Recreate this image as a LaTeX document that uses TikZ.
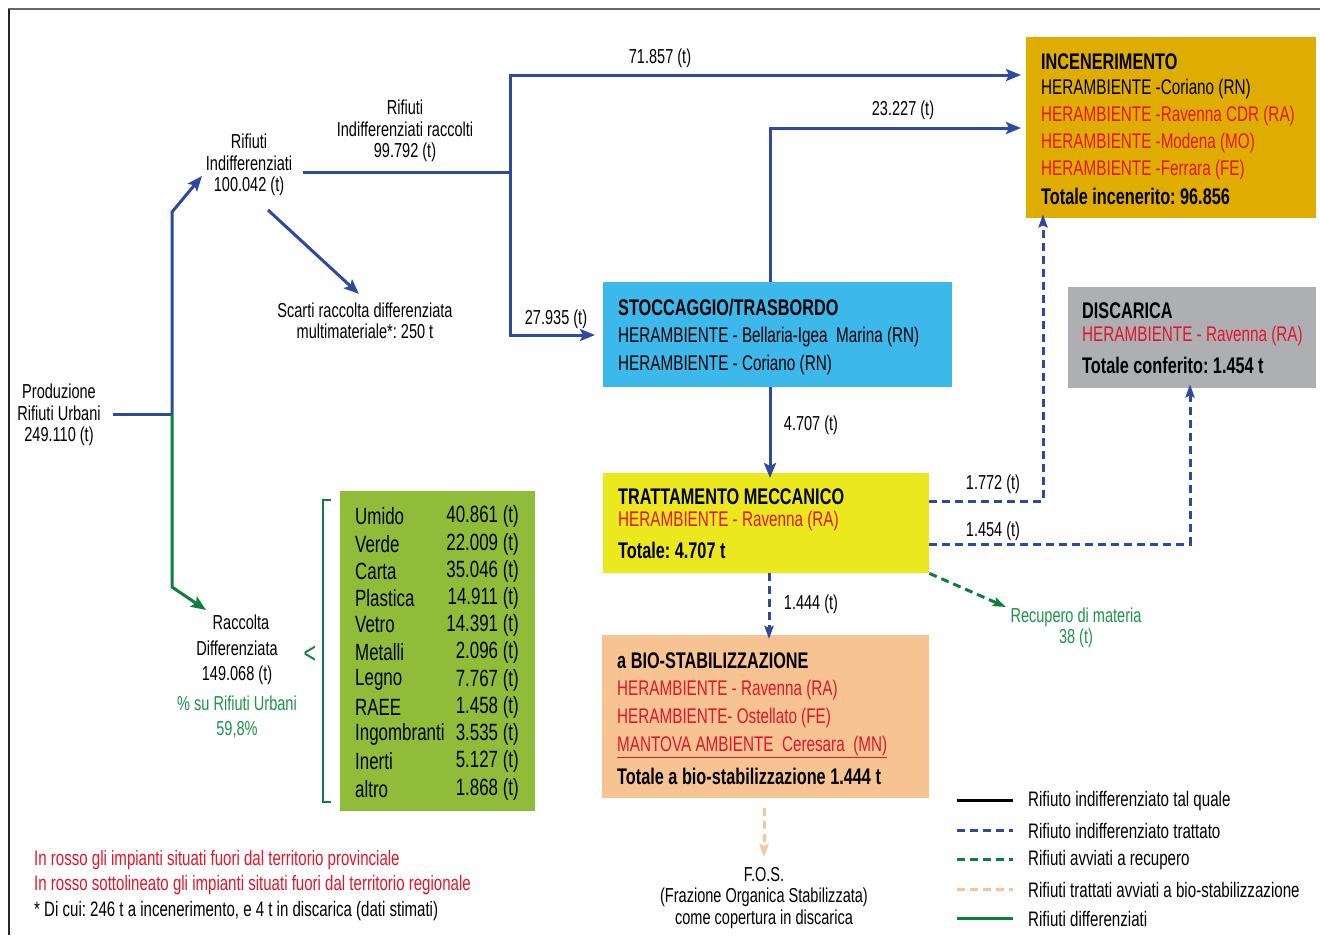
\documentclass[tikz,border=0pt]{standalone}
\usepackage{fontspec}
\setmainfont{Liberation Sans}[FakeStretch=0.72]
\usetikzlibrary{arrows.meta}
\frenchspacing
\definecolor{blueL}{HTML}{2E4A9E}
\definecolor{greenL}{HTML}{0B7F3B}
\definecolor{redT}{HTML}{E3152B}
\definecolor{greenT}{HTML}{1E9448}
\definecolor{incF}{HTML}{DEAD00}
\definecolor{disF}{HTML}{AEAFB2}
\definecolor{stoF}{HTML}{3CB9EA}
\definecolor{traF}{HTML}{ECE81E}
\definecolor{bioF}{HTML}{F7C392}
\definecolor{lstF}{HTML}{8FBD3A}
\definecolor{peachL}{HTML}{F8C593}
\begin{document}
\begin{tikzpicture}[x=1pt,y=-1pt,
  lbl/.style={inner sep=0pt, align=center, font=\fontsize{20.2}{21.5}\selectfont},
  boxn/.style={draw=none, inner sep=0pt, anchor=north west},
  bt/.style={anchor=west, inner sep=0pt, font=\fontsize{21.2}{24}\selectfont},
  bb/.style={anchor=west, inner sep=0pt, font=\bfseries\fontsize{22.6}{24}\selectfont},
  lt/.style={inner sep=0pt, font=\fontsize{23.5}{24}\selectfont},
  flow/.style={draw=blueL, line width=3pt},
  gflow/.style={draw=greenL, line width=3pt},
  dflow/.style={draw=blueL, line width=3pt, dash pattern=on 8pt off 5pt},
  arr/.style={-{Stealth[length=15pt,width=12pt,inset=3pt]}},
  darr/.style={-{Stealth[length=13pt,width=9pt,inset=2pt]}},
  ft/.style={anchor=west, inner sep=0pt, font=\fontsize{20.9}{22}\selectfont},
  lg/.style={anchor=west, inner sep=0pt, font=\fontsize{21}{22}\selectfont}
]
\useasboundingbox (0,0) rectangle (1320,935);
\fill[white] (0,0) rectangle (1320,935);
% frame
\draw[gray!80!black, line width=1.5pt] (8,9) -- (1320,9);
\draw[black!85, line width=1.5pt] (9,9) -- (9,935);

% boxes
\node[boxn, fill=incF, minimum width=290pt, minimum height=181pt] (inc) at (1026,37) {};
\node[boxn, fill=disF, minimum width=248pt, minimum height=101pt] (dis) at (1068,287) {};
\node[boxn, fill=stoF, minimum width=349pt, minimum height=105pt] (sto) at (603,282) {};
\node[boxn, fill=traF, minimum width=326pt, minimum height=100pt] (tra) at (603,473) {};
\node[boxn, fill=bioF, minimum width=327pt, minimum height=163pt] (bio) at (602,635) {};
\node[boxn, fill=lstF, minimum width=195pt, minimum height=320pt] (lst) at (340,491) {};

% box texts
\node[bb] (inc1) at (1041,62) {INCENERIMENTO};
\node[bt] (inc2) at (1041,89) {HERAMBIENTE -Coriano (RN)};
\node[bt, text=redT] (inc3) at (1041,116) {HERAMBIENTE -Ravenna CDR (RA)};
\node[bt, text=redT] (inc4) at (1041,143) {HERAMBIENTE -Modena (MO)};
\node[bt, text=redT] (inc5) at (1041,170) {HERAMBIENTE -Ferrara (FE)};
\node[bb] (inc6) at (1041,196) {Totale incenerito: 96.856};

\node[bb] (dis1) at (1082,311) {DISCARICA};
\node[bt, text=redT] (dis2) at (1082,336) {HERAMBIENTE - Ravenna (RA)};
\node[bb] (dis3) at (1082,365) {Totale conferito: 1.454 t};

\node[bb] (sto1) at (618,308) {STOCCAGGIO/TRASBORDO};
\node[bt] (sto2) at (618,337) {HERAMBIENTE - Bellaria-Igea\ \ Marina (RN)};
\node[bt] (sto3) at (618,365) {HERAMBIENTE - Coriano (RN)};

\node[bb] (tra1) at (618,497) {TRATTAMENTO MECCANICO};
\node[bt, text=redT] (tra2) at (618,521) {HERAMBIENTE - Ravenna (RA)};
\node[bb] (tra3) at (618,550) {Totale: 4.707 t};

\node[bb] (bio1) at (617,661) {a BIO-STABILIZZAZIONE};
\node[bt, text=redT] (bio2) at (617,690) {HERAMBIENTE - Ravenna (RA)};
\node[bt, text=redT] (bio3) at (617,718) {HERAMBIENTE- Ostellato (FE)};
\node[bt, text=redT] (bio4) at (617,747) {\underline{MANTOVA AMBIENTE\ \ Ceresara\ \ (MN)}};
\node[bb] (bio5) at (617,776) {Totale a bio-stabilizzazione 1.444 t};

% list
\foreach \n/\v/\y [count=\i] in {Umido/40.861/516, Verde/22.009/544, Carta/35.046/571, Plastica/14.911/598, Vetro/14.391/625, Metalli/2.096/652, Legno/7.767/680, RAEE/1.458/707, Ingombranti/3.535/734, Inerti/5.127/761, altro/1.868/789}{
  \node[lt, anchor=west] (ln\i) at (355,\y) {\n};
  \node[lt, anchor=east] (lv\i) at (519,\y) {\v\ (t)};
}
% bracket
\draw[greenL, line width=1.2pt] (331,500) -- (323,500) -- (323,802) -- (331,802);
\node[inner sep=0pt, text=greenL, font=\fontsize{30}{30}\selectfont] (lt1) at (310,655) {<};

% labels
\node[lbl] (prod) at (59,415) {Produzione\\Rifiuti Urbani\\249.110 (t)};
\node[lbl] (ri) at (249,165) {Rifiuti\\Indifferenziati\\100.042 (t)};
\node[lbl] (rir) at (405,131) {Rifiuti\\Indifferenziati raccolti\\99.792 (t)};
\node[lbl] (sca) at (365,321) {Scarti raccolta differenziata\\multimateriale*: 250 t};
\node[lbl, font=\fontsize{20.2}{25.5}\selectfont] (rd) at (237,650) {\hspace*{8pt}Raccolta\\Differenziata\\149.068 (t)};
\node[lbl, text=greenT, font=\fontsize{20.2}{25}\selectfont] (perc) at (237,717) {\% su Rifiuti Urbani\\59,8\%};
\node[lbl] (l1) at (660,58) {71.857 (t)};
\node[lbl] (l2) at (903,110) {23.227 (t)};
\node[lbl] (l3) at (556,319) {27.935 (t)};
\node[lbl] (l4) at (811,425) {4.707 (t)};
\node[lbl] (l5) at (993,484) {1.772 (t)};
\node[lbl] (l6) at (993,531) {1.454 (t)};
\node[lbl] (l7) at (811,604) {1.444 (t)};
\node[lbl, text=greenT] (rec) at (1076,628) {Recupero di materia\\38 (t)};
\node[lbl] (fos) at (764,898) {F.O.S.\\(Frazione Organica Stabilizzata)\\come copertura in discarica};

% coordinates
\coordinate (pe) at (113,414);
\coordinate (sp) at (172,414);
\coordinate (up) at (172,212);
\coordinate (upt) at (202,176);
\coordinate (dn) at (172,587);
\coordinate (dnt) at (206,610);
\coordinate (rie) at (303,172);
\coordinate (j) at (510,172);
\coordinate (jt) at (510,75);
\coordinate (jb) at (510,335);
\coordinate (d1) at (268,210);
\coordinate (d2) at (359,294);

% flows
\draw[flow] (pe) -- (sp);
\draw[flow, arr] (sp) -- (up) -- (upt);
\draw[gflow, arr] (sp) -- (dn) -- (dnt);
\draw[flow] (rie) -- (j);
\draw[flow, arr] (j) -- (jt) -- ([xshift=-5pt]inc.west |- jt);
\draw[flow, arr] (j) -- (jb) -- ([xshift=-8pt]sto.west |- jb);
\draw[flow, arr] (d1) -- (d2);
\draw[flow, arr] (sto.north -| 770,0) -- (770,128) -- ([xshift=-5pt]inc.west |- 0,128);
\draw[flow, arr] (sto.south -| 770,0) -- ([yshift=-5pt]tra.north -| 770,0);
\draw[dflow, darr] (tra.east |- 0,501) -- (1043,501) -- ([yshift=4pt]inc.south -| 1043,0);
\draw[dflow, darr] (tra.east |- 0,544) -- (1190,544) -- ([yshift=4pt]dis.south -| 1190,0);
\draw[dflow, darr] (tra.south -| 769,0) -- ([yshift=-4pt]bio.north -| 769,0);
\draw[draw=greenL, line width=3pt, dash pattern=on 8pt off 5pt, darr] (tra.south east) -- (1006,607);
\draw[draw=peachL, line width=3pt, dash pattern=on 8pt off 5pt, darr] (bio.south -| 764,0) ++(0,10) -- (764,857);

% footnotes
\node[ft, text=redT] (f1) at (34,860) {In rosso gli impianti situati fuori dal territorio provinciale};
\node[ft, text=redT] (f2) at (34,885) {In rosso sottolineato gli impianti situati fuori dal territorio regionale};
\node[ft] (f3) at (34,911) {* Di cui: 246 t a incenerimento, e 4 t in discarica (dati stimati)};

% legend
\coordinate (a1) at (957,800); \coordinate (b1) at (1013,800);
\coordinate (a2) at (957,830); \coordinate (b2) at (1013,830);
\coordinate (a3) at (957,859); \coordinate (b3) at (1013,859);
\coordinate (a4) at (957,889); \coordinate (b4) at (1013,889);
\coordinate (a5) at (957,918); \coordinate (b5) at (1013,918);
\draw[black, line width=3pt] (a1) -- (b1);
\draw[blueL, line width=3pt, dash pattern=on 8pt off 5pt] (a2) -- (b2);
\draw[greenL, line width=3pt, dash pattern=on 8pt off 5pt] (a3) -- (b3);
\draw[peachL, line width=3pt, dash pattern=on 8pt off 5pt] (a4) -- (b4);
\draw[greenL, line width=3pt] (a5) -- (b5);
\node[lg] (g1) at (1028,801) {Rifiuto indifferenziato tal quale};
\node[lg] (g2) at (1028,831) {Rifiuto indifferenziato trattato};
\node[lg] (g3) at (1028,860) {Rifiuti avviati a recupero};
\node[lg] (g4) at (1028,890) {Rifiuti trattati avviati a bio-stabilizzazione};
\node[lg] (g5) at (1028,919) {Rifiuti differenziati};
\end{tikzpicture}
\end{document}
